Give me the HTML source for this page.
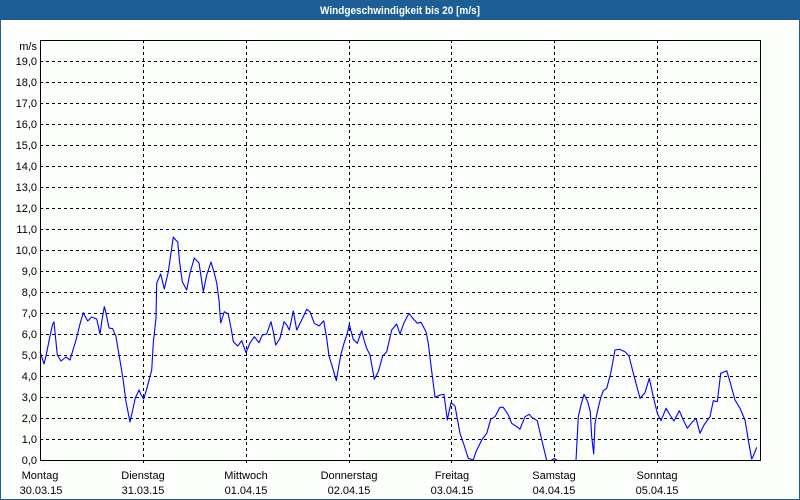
<!DOCTYPE html>
<html><head><meta charset="utf-8"><style>
html,body{margin:0;padding:0;background:#fcfefc;}
svg{display:block;}
text{font-family:"Liberation Sans",Tahoma,sans-serif;font-size:11px;fill:#000;}
</style></head><body>
<svg width="800" height="500" viewBox="0 0 800 500" xmlns="http://www.w3.org/2000/svg">
<rect x="0" y="0" width="800" height="500" fill="#fcfefc"/>
<rect x="0" y="0" width="800" height="20" fill="#1d5e96"/>
<rect x="0.5" y="0.5" width="799" height="499" fill="none" stroke="#1d5e96" stroke-width="1"/>
<text x="400" y="14" text-anchor="middle" style="font-weight:bold;fill:#fff;font-size:11px" textLength="160" lengthAdjust="spacingAndGlyphs">Windgeschwindigkeit bis 20 [m/s]</text>

<g stroke="#000" stroke-width="1" stroke-dasharray="3,3" fill="none">
<line x1="40" y1="439.5" x2="760" y2="439.5"/>
<line x1="40" y1="418.5" x2="760" y2="418.5"/>
<line x1="40" y1="397.5" x2="760" y2="397.5"/>
<line x1="40" y1="376.5" x2="760" y2="376.5"/>
<line x1="40" y1="355.5" x2="760" y2="355.5"/>
<line x1="40" y1="334.5" x2="760" y2="334.5"/>
<line x1="40" y1="313.5" x2="760" y2="313.5"/>
<line x1="40" y1="292.5" x2="760" y2="292.5"/>
<line x1="40" y1="271.5" x2="760" y2="271.5"/>
<line x1="40" y1="250.5" x2="760" y2="250.5"/>
<line x1="40" y1="229.5" x2="760" y2="229.5"/>
<line x1="40" y1="208.5" x2="760" y2="208.5"/>
<line x1="40" y1="187.5" x2="760" y2="187.5"/>
<line x1="40" y1="166.5" x2="760" y2="166.5"/>
<line x1="40" y1="145.5" x2="760" y2="145.5"/>
<line x1="40" y1="124.5" x2="760" y2="124.5"/>
<line x1="40" y1="103.5" x2="760" y2="103.5"/>
<line x1="40" y1="82.5" x2="760" y2="82.5"/>
<line x1="40" y1="61.5" x2="760" y2="61.5"/>
<line x1="143.5" y1="40" x2="143.5" y2="464"/>
<line x1="246.5" y1="40" x2="246.5" y2="464"/>
<line x1="349.5" y1="40" x2="349.5" y2="464"/>
<line x1="451.5" y1="40" x2="451.5" y2="464"/>
<line x1="554.5" y1="40" x2="554.5" y2="464"/>
<line x1="657.5" y1="40" x2="657.5" y2="464"/>
</g>

<polyline fill="none" stroke="#0000ff" stroke-width="1.1" stroke-linejoin="round" points="40,351.7 44,364 46,356 50,336 52.7,324 54,322 56,342 57.3,355 61,361 66,357 70,360 76,340 80,324 83.3,312.7 87.7,321 91.7,317 96.7,319 100,334 102,320 104.3,306.7 106,313 109,328 112.7,328.7 116,336.7 118.7,353 122.7,376.7 126,401.7 130,422 132.7,410 135.3,398 139,390 140.7,394 143.7,399 146.7,389 151.7,370 153.3,343 156,318 156.7,283 160.7,274 164.3,289 168.3,271.7 171.7,248 173.3,237 175.7,240 177.7,241.7 179.7,263 182.3,281.7 186.7,290 190,273 194.3,258 199,263 203.3,291.7 206.7,275 211,262 214.3,273 216.7,283 219,300 220.7,323 222.3,318 224.3,311.7 228.3,314 231.7,331.7 233.3,341.7 237.7,346 241.7,340.7 246,352.7 250,343 254.3,336.7 259,342.7 262.3,335 266.7,334 271,321.7 273.3,331.7 275.7,345 280,338.3 284,321.7 286.7,325 289.3,330 293.3,311 296.7,330 301.7,320 306.7,309.3 310,311.7 314.3,323.3 319,326 323.7,320.7 326.7,338.3 329,356 332.3,366.7 336.3,380.7 339.3,363.3 341,354 344,343.3 347.3,333.3 349.3,324 350.7,330 353.3,339.3 357.3,343.3 361.7,330.7 364,340 366.7,348.3 370,355 374.3,379.3 378.3,371.7 382.7,356 386.7,351.7 391.7,330 396.7,324 400,334 404,322.7 409,313.3 412.7,318.3 417.3,323.3 421,322.3 426,331.7 428.3,343.3 430.7,363.3 435,397.3 440,395 444,394.3 447.3,420 451,402.7 455,406 460,433.3 464,445 468.3,458.3 473.3,460 476,451.7 481.7,440 486.7,433.3 490.7,419.3 495,416.7 500,407.3 503.3,407.3 508.3,415 511.7,423.3 516.7,426.7 520,429 525,416.7 529.3,414.3 531.7,417.3 537.3,420.7 541,436.7 546.7,460.5 551,460.5 554.3,458.5 557.3,460.5 576,460.5 578.3,416.7 581,405 584,394.3 587.7,401.7 590.3,411.7 591.7,436.7 593.7,454 595,423.3 597.7,410 601,396.7 603.3,390.7 606.7,388.3 610.7,373.3 615,350 619.3,349.3 625,351.7 629,356 633.3,373.3 640,398.3 645,392.7 649.3,378.3 653.3,396.7 657.3,413.3 661,420.7 666,408.3 670,415 674,421 679.3,410.7 683.3,420 687.3,428.3 691.7,422.7 696,418.3 700,433.3 704,425 710,416.7 713.3,400.7 717.3,401.7 720.7,373.3 723.3,372.3 726.7,370.7 730,381.7 735,400 740,408.3 745,420 748.3,440 751.7,459 753.3,456 756.7,447.3"/>

<rect x="40.5" y="40.5" width="720" height="420" fill="none" stroke="#000" stroke-width="1"/>

<g text-anchor="end">
<text x="37" y="50">m/s</text>
<text x="37" y="65">19,0</text>
<text x="37" y="86">18,0</text>
<text x="37" y="107">17,0</text>
<text x="37" y="128">16,0</text>
<text x="37" y="149">15,0</text>
<text x="37" y="170">14,0</text>
<text x="37" y="191">13,0</text>
<text x="37" y="212">12,0</text>
<text x="37" y="233">11,0</text>
<text x="37" y="254">10,0</text>
<text x="37" y="275">9,0</text>
<text x="37" y="296">8,0</text>
<text x="37" y="317">7,0</text>
<text x="37" y="338">6,0</text>
<text x="37" y="359">5,0</text>
<text x="37" y="380">4,0</text>
<text x="37" y="401">3,0</text>
<text x="37" y="422">2,0</text>
<text x="37" y="443">1,0</text>
<text x="37" y="464">0,0</text>
</g>

<g text-anchor="middle">
<text x="40" y="479">Montag</text>
<text x="41" y="494">30.03.15</text>
<text x="143" y="479">Dienstag</text>
<text x="143" y="494">31.03.15</text>
<text x="246" y="479">Mittwoch</text>
<text x="246" y="494">01.04.15</text>
<text x="349" y="479">Donnerstag</text>
<text x="349" y="494">02.04.15</text>
<text x="452" y="479">Freitag</text>
<text x="452" y="494">03.04.15</text>
<text x="554" y="479">Samstag</text>
<text x="554" y="494">04.04.15</text>
<text x="657" y="479">Sonntag</text>
<text x="657" y="494">05.04.15</text>
</g>
</svg>
</body></html>
